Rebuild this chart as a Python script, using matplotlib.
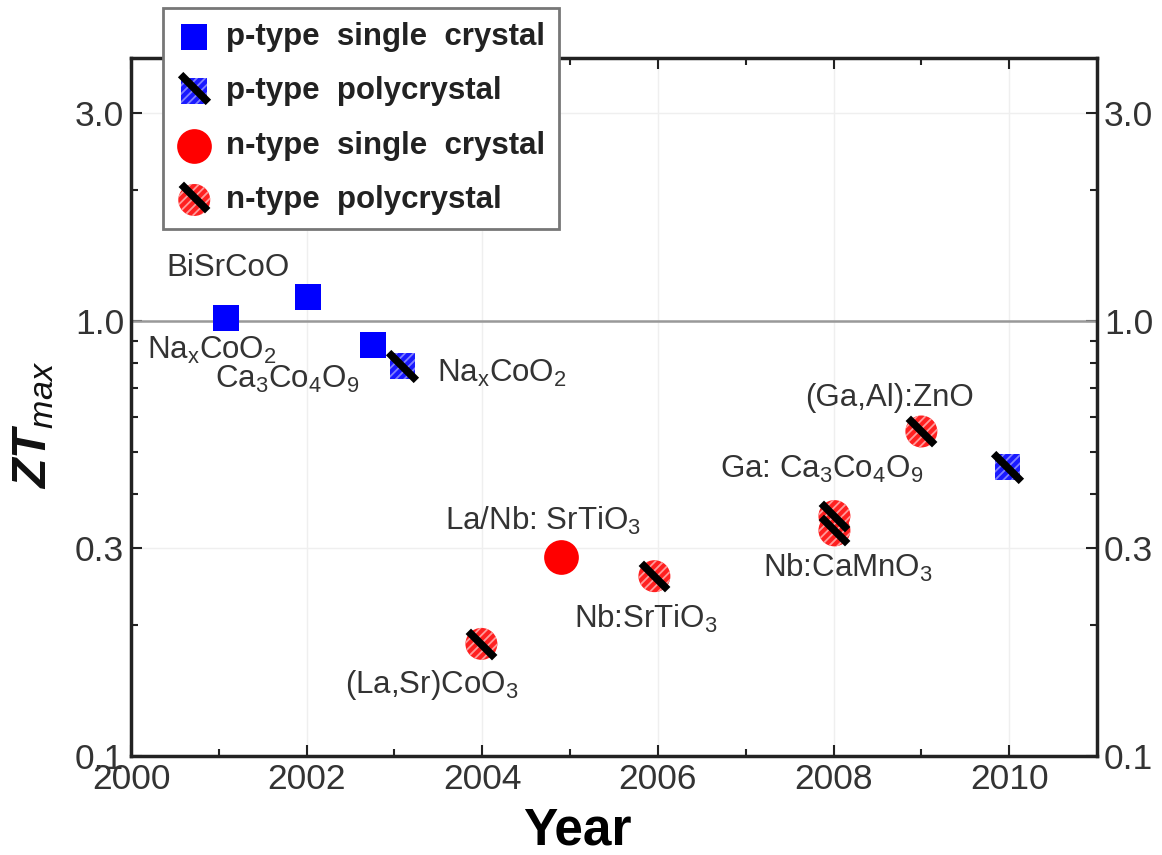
import matplotlib
matplotlib.use("Agg")
import matplotlib.pyplot as plt
from matplotlib.path import Path
from matplotlib.legend_handler import HandlerTuple
from matplotlib.ticker import FixedLocator, NullFormatter

plt.rcParams['font.family'] = ['Liberation Sans', 'DejaVu Sans']
plt.rcParams['mathtext.fontset'] = 'custom'
plt.rcParams['mathtext.rm'] = 'Liberation Sans'
plt.rcParams['mathtext.it'] = 'Liberation Sans:italic'
plt.rcParams['mathtext.bf'] = 'Liberation Sans:bold'
plt.rcParams['mathtext.bfit'] = 'Liberation Sans:bold:italic'
plt.rcParams['hatch.linewidth'] = 1.3

# data
p_single_year = [2001.08, 2002.02, 2002.75]
p_single_zt = [1.014, 1.135, 0.881]
p_poly_year = [2003.09, 2009.98]
p_poly_zt = [0.789, 0.462]
n_single_year = [2004.90]
n_single_zt = [0.287]
n_poly_year = [2003.99, 2005.96, 2008.01, 2008.01, 2009.00]
n_poly_zt = [0.181, 0.259, 0.356, 0.330, 0.557]

# labels: (text, year, zt, dx, dy) offsets in pixels
labels = [
    ("BiSrCoO", 2002.02, 1.135, -80, 29),
    (r"Na$_\mathrm{x}$CoO$_2$", 2001.08, 1.014, -14, -32),
    (r"Ca$_3$Co$_4$O$_9$", 2002.75, 0.881, -85, -35),
    (r"Na$_\mathrm{x}$CoO$_2$", 2003.09, 0.789, 99, -8),
    ("(Ga,Al):ZnO", 2009.00, 0.557, -32, 33),
    (r"Ga: Ca$_3$Co$_4$O$_9$", 2009.98, 0.462, -186, -3),
    (r"La/Nb: SrTiO$_3$", 2004.90, 0.287, -18, 36),
    (r"Nb:CaMnO$_3$", 2008.01, 0.330, 14, -38),
    (r"Nb:SrTiO$_3$", 2005.96, 0.259, -9, -43),
    (r"(La,Sr)CoO$_3$", 2003.99, 0.181, -50, -41),
]

slash = Path([(-1, 1), (1, -1)], [Path.MOVETO, Path.LINETO])

fig = plt.figure(figsize=(11.62, 8.55), dpi=100)
ax = fig.add_axes([131/1162, 1-756/855, (1097-131)/1162, (756-58)/855])

ax.axhline(1.0, color='#999999', lw=1.8, zorder=1)

h1 = ax.scatter(p_single_year, p_single_zt, marker='s', s=18.5**2, color='#0000ff',
                linewidths=0, zorder=3)
h2a = ax.scatter(p_poly_year, p_poly_zt, marker='s', s=18.5**2, facecolor='#1a1aff',
                 edgecolor='#8080ff', linewidths=0, hatch='////', zorder=3)
h2b, = ax.plot(p_poly_year, p_poly_zt, ls='none', marker=slash, ms=20,
               mfc='none', mec='black', mew=5.5, zorder=4)
h3 = ax.scatter(n_single_year, n_single_zt, marker='o', s=25**2, color='#ff0000',
                linewidths=0, zorder=3)
h4a = ax.scatter(n_poly_year, n_poly_zt, marker='o', s=23**2, facecolor='#ff2020',
                 edgecolor='#ff9a9a', linewidths=0, hatch='////', zorder=3)
h4b, = ax.plot(n_poly_year, n_poly_zt, ls='none', marker=slash, ms=19,
               mfc='none', mec='black', mew=5.5, zorder=4)

for txt, x, y, dx, dy in labels:
    ax.annotate(txt, (x, y), xytext=(dx, dy), textcoords='offset pixels',
                ha='center', va='center', fontsize=22.5, color='#333333')

ax.set_yscale('log')
ax.set_xlim(2000, 2011)
ax.set_ylim(0.1, 4.02)
ax.yaxis.set_major_locator(FixedLocator([0.1, 0.3, 1.0, 3.0]))
ax.yaxis.set_minor_locator(FixedLocator([0.2, 0.4, 0.5, 0.6, 0.7, 0.8, 0.9, 2.0]))
ax.set_yticklabels(['0.1', '0.3', '1.0', '3.0'])
ax.yaxis.set_minor_formatter(NullFormatter())
ax.xaxis.set_major_locator(FixedLocator(range(2000, 2011, 2)))
ax.xaxis.set_minor_locator(FixedLocator(range(2001, 2011, 2)))

ax.tick_params(which='both', direction='in', top=True, right=True,
               labelright=True, width=1.5, colors='#222222', labelcolor='#333333',
               labelsize=25.5)
ax.tick_params(which='major', length=8, pad=5)
ax.tick_params(which='minor', length=5)
ax.grid(True, which='major', color='#efefef', lw=1)
ax.set_axisbelow(True)
for sp in ax.spines.values():
    sp.set_linewidth(2.5)
    sp.set_color('#222222')

ax.set_xlabel('Year', fontsize=37, fontweight='bold')
ax.xaxis.set_label_coords((577-131)/966, -(806-756)/698)
fig.text(34/1162, 1-425/855, r'$\mathbfit{ZT}_{\mathit{max}}$', rotation=90,
         ha='center', va='center', fontsize=35, color='#111111')

leg = fig.legend([h1, (h2a, h2b), h3, (h4a, h4b)],
                 ['p-type  single  crystal', 'p-type  polycrystal',
                  'n-type  single  crystal', 'n-type  polycrystal'],
                 handler_map={tuple: HandlerTuple(ndivide=1)},
                 loc='upper left', bbox_to_anchor=(163/1162, 1-8/855),
                 prop={'weight': 'bold', 'size': 22.5}, labelcolor='#222222',
                 fancybox=False, framealpha=1, edgecolor='#777777',
                 borderpad=0.45, labelspacing=0.78, handlelength=1.1,
                 handletextpad=0.45, borderaxespad=0)
leg.get_frame().set_linewidth(2)

fig.savefig('out.png', dpi=100)
